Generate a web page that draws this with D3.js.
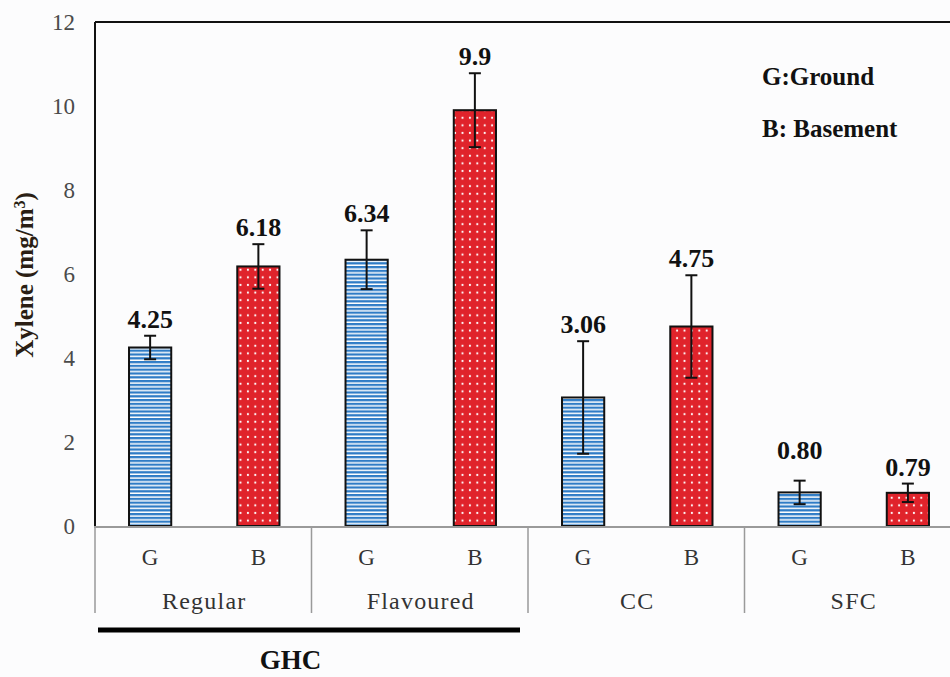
<!DOCTYPE html>
<html>
<head>
<meta charset="utf-8">
<script src="https://cdn.jsdelivr.net/npm/d3@7"></script>
<style>
  html, body { margin: 0; padding: 0; background: #fcfcfd; }
  svg { display: block; }
</style>
</head>
<body>
<svg id="chart" width="950" height="677"></svg>
<script>
// Product groups and sampling locations
const groups = ["Regular", "Flavoured", "CC", "SFC"];
const locations = ["G", "B"];

// Mean xylene concentrations (mg/m3) and error bar half-widths
const groundMeans = [4.25, 6.34, 3.06, 0.80];
const basementMeans = [6.18, 9.9, 4.75, 0.79];
const groundErr = [0.28, 0.70, 1.34, 0.28];
const basementErr = [0.53, 0.88, 1.22, 0.22];
const groundLabels = ["4.25", "6.34", "3.06", "0.80"];
const basementLabels = ["6.18", "9.9", "4.75", "0.79"];

const yTicks = [0, 2, 4, 6, 8, 10, 12];
const legendLines = ["G:Ground", "B: Basement"];
const superGroup = "GHC";

const SERIF = "'Liberation Serif', Tinos, 'DejaVu Serif', 'Noto Serif', serif";

// Flat list of bars, one per group/location pair
const bars = [];
groups.forEach((g, i) => {
  bars.push({ group: g, loc: "G", key: g + "-G", value: groundMeans[i], err: groundErr[i], label: groundLabels[i] });
  bars.push({ group: g, loc: "B", key: g + "-B", value: basementMeans[i], err: basementErr[i], label: basementLabels[i] });
});

const svg = d3.select("#chart").attr("font-family", SERIF);
const plotLeft = 96, plotRight = 962, plotTop = 22, plotBottom = 526;

const x = d3.scaleBand().domain(bars.map(d => d.key)).range([plotLeft, plotRight]).padding(0);
const gx = d3.scaleBand().domain(groups).range([plotLeft, plotRight]).padding(0);
const y = d3.scaleLinear().domain([0, 12]).range([plotBottom, plotTop]);
const barW = x.bandwidth() * 0.39;

// Fill patterns
const defs = svg.append("defs");
const stripes = defs.append("pattern").attr("id", "stripes")
  .attr("patternUnits", "userSpaceOnUse").attr("width", 8).attr("height", 3.8);
stripes.append("rect").attr("width", 8).attr("height", 3.8).attr("fill", "#ffffff");
stripes.append("rect").attr("y", 0).attr("width", 8).attr("height", 2.3).attr("fill", "#2f7cc6");

const dots = defs.append("pattern").attr("id", "dots")
  .attr("patternUnits", "userSpaceOnUse").attr("width", 7.4).attr("height", 7.6);
dots.append("rect").attr("width", 7.4).attr("height", 7.6).attr("fill", "#e0232b");
dots.append("circle").attr("cx", 3.7).attr("cy", 3.8).attr("r", 1.1).attr("fill", "#ffffff");

// Plot frame (top border and left axis line)
svg.append("line").attr("x1", plotLeft - 1).attr("x2", 950).attr("y1", plotTop).attr("y2", plotTop)
  .attr("stroke", "#111").attr("stroke-width", 2);
svg.append("line").attr("x1", plotLeft - 1).attr("x2", plotLeft - 1).attr("y1", plotTop).attr("y2", plotBottom)
  .attr("stroke", "#111").attr("stroke-width", 2);

// Y tick labels
svg.append("g").selectAll("text").data(yTicks).join("text")
  .attr("x", 75).attr("y", d => y(d)).attr("dy", "0.35em")
  .attr("text-anchor", "end").attr("font-size", 23).attr("fill", "#4a4a4a")
  .text(d => d);

// Y axis title
svg.append("text")
  .attr("transform", `translate(33,${275}) rotate(-90)`)
  .attr("text-anchor", "middle").attr("font-size", 25).attr("font-weight", "bold").attr("fill", "#2a1e14")
  .call(t => {
    t.append("tspan").text("Xylene (mg/m");
    t.append("tspan").attr("baseline-shift", "super").attr("font-size", 16).text("3");
    t.append("tspan").text(")");
  });

// Bars
svg.append("g").selectAll("rect").data(bars).join("rect")
  .attr("x", d => x(d.key) + (x.bandwidth() - barW) / 2)
  .attr("y", d => y(d.value))
  .attr("width", barW)
  .attr("height", d => y(0) - y(d.value))
  .attr("fill", d => d.loc === "G" ? "url(#stripes)" : "url(#dots)")
  .attr("stroke", "#111").attr("stroke-width", 2);

// Error bars
const eb = svg.append("g").attr("stroke", "#111").attr("stroke-width", 2);
bars.forEach(d => {
  const cx = x(d.key) + x.bandwidth() / 2;
  eb.append("line").attr("x1", cx).attr("x2", cx).attr("y1", y(d.value + d.err)).attr("y2", y(d.value - d.err));
  eb.append("line").attr("x1", cx - 6).attr("x2", cx + 6).attr("y1", y(d.value + d.err)).attr("y2", y(d.value + d.err));
  eb.append("line").attr("x1", cx - 6).attr("x2", cx + 6).attr("y1", y(d.value - d.err)).attr("y2", y(d.value - d.err));
});

// Value labels above error bars (the SFC ground label sits a little higher)
const labelLift = { "SFC-G": 14 };
svg.append("g").selectAll("text").data(bars).join("text")
  .attr("x", d => x(d.key) + x.bandwidth() / 2)
  .attr("y", d => y(d.value + d.err) - 8 - (labelLift[d.key] || 0))
  .attr("text-anchor", "middle").attr("font-size", 26).attr("font-weight", "bold").attr("fill", "#111")
  .text(d => d.label);

// Category axis: baseline and group separators
svg.append("line").attr("x1", plotLeft - 2).attr("x2", 950).attr("y1", plotBottom + 1).attr("y2", plotBottom + 1)
  .attr("stroke", "#9a9a9a").attr("stroke-width", 2);
svg.append("g").selectAll("line").data(groups).join("line")
  .attr("x1", d => gx(d) - 1).attr("x2", d => gx(d) - 1)
  .attr("y1", plotBottom + 1).attr("y2", 613)
  .attr("stroke", "#9a9a9a").attr("stroke-width", 1.5);

// Location labels
svg.append("g").selectAll("text").data(bars).join("text")
  .attr("x", d => x(d.key) + x.bandwidth() / 2).attr("y", 565)
  .attr("text-anchor", "middle").attr("font-size", 23).attr("fill", "#333")
  .text(d => d.loc);

// Group labels
svg.append("g").selectAll("text").data(groups).join("text")
  .attr("x", d => gx(d) + gx.bandwidth() / 2).attr("y", 609)
  .attr("text-anchor", "middle").attr("font-size", 24).attr("letter-spacing", 1.2).attr("fill", "#333")
  .text(d => d);

// Bracket for the GHC super-group (Regular + Flavoured)
svg.append("line")
  .attr("x1", gx("Regular") + 2).attr("x2", gx("Flavoured") + gx.bandwidth() - 9)
  .attr("y1", 630).attr("y2", 630)
  .attr("stroke", "#000").attr("stroke-width", 5);
svg.append("text")
  .attr("x", (gx("Regular") + gx("Flavoured") + gx.bandwidth()) / 2 - 22).attr("y", 669)
  .attr("text-anchor", "middle").attr("font-size", 27).attr("font-weight", "bold").attr("fill", "#111")
  .text(superGroup);

// Legend text
svg.append("g").selectAll("text").data(legendLines).join("text")
  .attr("x", 762).attr("y", (d, i) => 85 + i * 52)
  .attr("font-size", 25).attr("font-weight", "bold").attr("fill", "#111")
  .text(d => d);
</script>
</body>
</html>
